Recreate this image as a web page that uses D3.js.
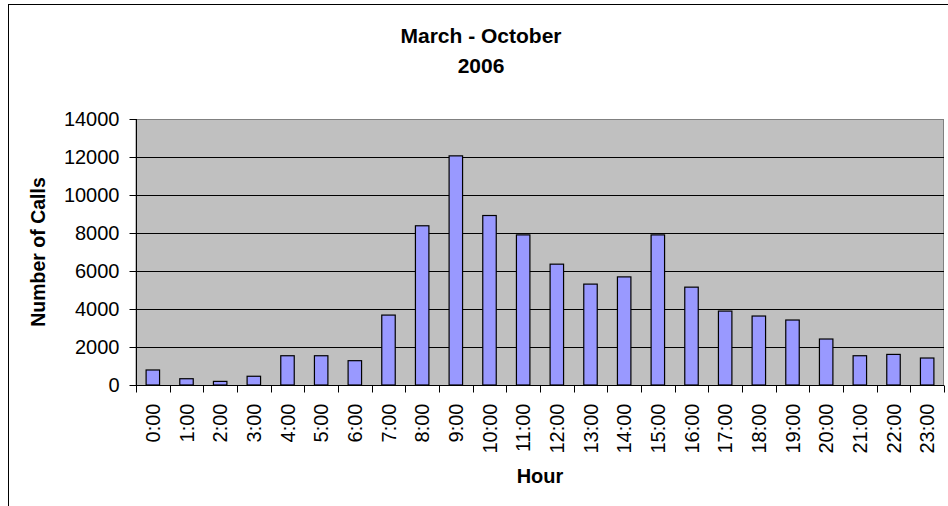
<!DOCTYPE html>
<html>
<head>
<meta charset="utf-8">
<script src="https://cdn.jsdelivr.net/npm/d3@7"></script>
<style>
  html, body { margin: 0; padding: 0; background: #fff; }
  svg { display: block; font-family: "Liberation Sans", Arial, sans-serif; }
</style>
</head>
<body>
<svg id="chart" width="948" height="506"></svg>
<script>
const hours = ["0:00","1:00","2:00","3:00","4:00","5:00","6:00","7:00","8:00","9:00","10:00","11:00",
               "12:00","13:00","14:00","15:00","16:00","17:00","18:00","19:00","20:00","21:00","22:00","23:00"];
const calls = [790, 330, 190, 460, 1540, 1540, 1280, 3680, 8380, 12060, 8920, 7900,
               6360, 5310, 5690, 7900, 5150, 3890, 3630, 3420, 2420, 1540, 1610, 1420];
const yTicks = [0, 2000, 4000, 6000, 8000, 10000, 12000, 14000];
const titleLines = ["March - October", "2006"];
const xTitle = "Hour";
const yTitle = "Number of Calls";

const svg = d3.select("#chart");
const plot = { left: 136, top: 119, right: 944, bottom: 385 };

// outer chart frame (top and left visible)
svg.append("rect")
  .attr("x", 8.5).attr("y", 4.5)
  .attr("width", 1000).attr("height", 600)
  .attr("fill", "#fff").attr("stroke", "#000").attr("stroke-width", 1);

const x = d3.scaleBand().domain(hours)
  .range([plot.left, plot.right])
  .paddingInner(0.6).paddingOuter(0.3);
const y = d3.scaleLinear().domain([0, 14000]).range([plot.bottom, plot.top]);

// plot area background
svg.append("rect")
  .attr("x", plot.left).attr("y", plot.top + 0.5)
  .attr("width", plot.right - plot.left - 0.5).attr("height", plot.bottom - plot.top)
  .attr("fill", "#C0C0C0").attr("stroke", "#808080").attr("stroke-width", 1);

// gridlines
svg.append("g").selectAll("line")
  .data(yTicks.filter(d => d > 0 && d < 14000))
  .join("line")
  .attr("x1", plot.left).attr("x2", plot.right)
  .attr("y1", d => Math.round(y(d)) + 0.5).attr("y2", d => Math.round(y(d)) + 0.5)
  .attr("stroke", "#000").attr("stroke-width", 1);

// bars
svg.append("g").selectAll("rect")
  .data(calls)
  .join("rect")
  .attr("x", (d, i) => x(hours[i]))
  .attr("y", d => y(d))
  .attr("width", x.bandwidth())
  .attr("height", d => plot.bottom - y(d))
  .attr("fill", "#9999FF")
  .attr("stroke", "#000").attr("stroke-width", 1.2);

// y axis
const yAxis = d3.axisLeft(y).tickValues(yTicks).tickSize(7).tickPadding(10).tickFormat(d3.format("d"));
const gy = svg.append("g").attr("transform", `translate(${plot.left + 0.5},0)`).call(yAxis);
gy.select(".domain").attr("stroke", "#000").attr("d", `M0,${plot.top}V${plot.bottom}`);
gy.selectAll(".tick line").attr("stroke", "#000");
gy.selectAll(".tick text").attr("font-size", 20).attr("fill", "#000")
  .attr("font-family", "'Liberation Sans', Arial, sans-serif");

// x axis
const xBound = d3.scaleLinear().domain([0, hours.length]).range([plot.left, plot.right]);
const gx = svg.append("g").attr("transform", `translate(0,${plot.bottom + 0.5})`);
gx.append("line").attr("x1", plot.left).attr("x2", plot.right)
  .attr("stroke", "#000");
gx.selectAll("line.tk").data(d3.range(hours.length + 1)).join("line")
  .attr("class", "tk")
  .attr("x1", d => Math.round(xBound(d)) + 0.5).attr("x2", d => Math.round(xBound(d)) + 0.5)
  .attr("y1", 0).attr("y2", 7).attr("stroke", "#000");
gx.selectAll("text").data(hours).join("text")
  .attr("transform", d => `translate(${x(d) + x.bandwidth() / 2},18) rotate(-90)`)
  .attr("text-anchor", "end").attr("dy", "0.35em")
  .attr("font-size", 20).attr("fill", "#000")
  .text(d => d);

// titles
svg.append("text").attr("x", 481).attr("text-anchor", "middle")
  .attr("font-size", 21).attr("font-weight", "bold")
  .selectAll("tspan").data(titleLines).join("tspan")
  .attr("x", 481).attr("y", (d, i) => 43 + i * 30).text(d => d);

svg.append("text").attr("x", (plot.left + plot.right) / 2).attr("y", 483)
  .attr("text-anchor", "middle").attr("font-size", 20).attr("font-weight", "bold")
  .text(xTitle);

svg.append("text")
  .attr("transform", `translate(45,${(plot.top + plot.bottom) / 2}) rotate(-90)`)
  .attr("text-anchor", "middle").attr("font-size", 19.5).attr("font-weight", "bold")
  .text(yTitle);
</script>
</body>
</html>
